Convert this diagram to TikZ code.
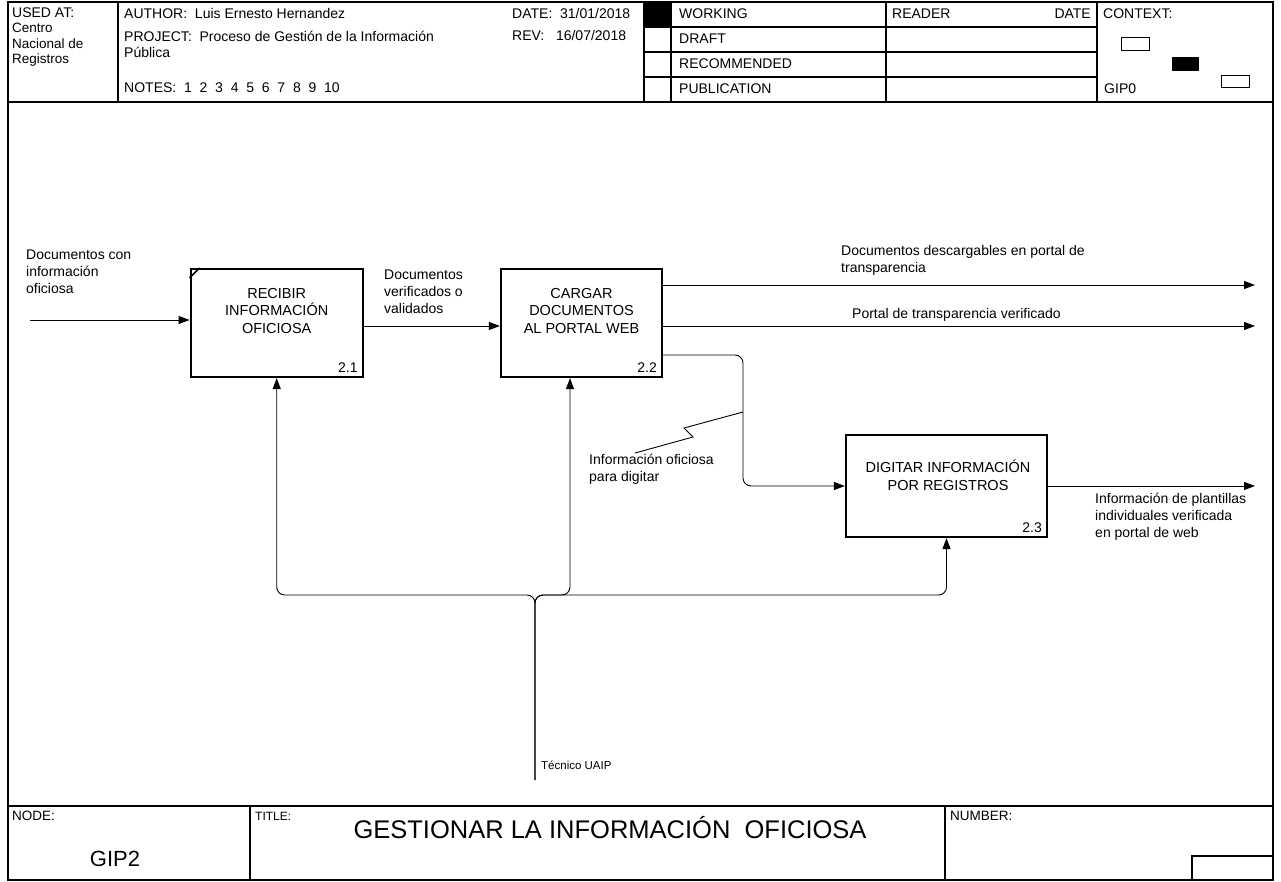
\documentclass[tikz,border=0pt]{standalone}
\usepackage{fontspec}
\setmainfont{Liberation Sans}
\usetikzlibrary{arrows.meta,calc}
\begin{document}
\begin{tikzpicture}[x=1pt,y=-1pt,
  fr/.style={line width=1.3pt},
  txt/.style={font=\fontsize{14}{16}\selectfont, inner sep=0pt, anchor=west},
  small/.style={font=\fontsize{13.5}{15}\selectfont, inner sep=0pt, anchor=west},
  ctr/.style={font=\fontsize{14.5}{17.5}\selectfont, inner sep=0pt, align=center},
  lbl/.style={font=\fontsize{14}{17}\selectfont, inner sep=0pt, align=left, anchor=north west},
  proc/.style={draw, line width=2.2pt, inner sep=0pt},
  num/.style={font=\fontsize{14}{16}\selectfont, inner sep=0pt, anchor=base east},
  arr/.style={line width=0.9pt, -{Triangle[length=11pt,width=8pt]}},
  ln/.style={line width=0.9pt},
]
\useasboundingbox (0,0) rectangle (1281,882);
% ---------- frame ----------
\draw[fr] (8,2) rectangle (1273,880);
\draw[fr] (8,102) -- (1273,102);
\draw[fr] (118,2) -- (118,102);
\draw[fr] (644,2) -- (644,102);
\draw[fr] (671,2) -- (671,102);
\draw[fr] (886,2) -- (886,102);
\draw[fr] (1097,2) -- (1097,102);
\draw[fr] (644,27) -- (1097,27);
\draw[fr] (644,52) -- (1097,52);
\draw[fr] (644,77) -- (1097,77);
\fill (644,2) rectangle (671,27);
% context boxes
\draw[line width=1pt] (1121,38) rectangle (1149,51);
\fill (1172,57) rectangle (1199,71);
\draw[line width=1pt] (1221,76) rectangle (1249,88);
% header texts
\node[txt] (usedat) at (12,13) {USED AT:};
\node[small] (u1) at (12,28) {Centro};
\node[small] (u2) at (12,44) {Nacional de};
\node[small] (u3) at (12,60) {Registros};
\node[txt] (author) at (124,14) {AUTHOR:\ \ Luis Ernesto Hernandez};
\node[txt] (project) at (124,36) {PROJECT:\ \ Proceso de Gestión de la Información};
\node[txt] (project2) at (124,52) {Pública};
\node[txt] (notes) at (124,88) {NOTES:\ \ 1\ \ 2\ \ 3\ \ 4\ \ 5\ \ 6\ \ 7\ \ 8\ \ 9\ \ 10};
\node[txt] (date) at (512,14) {DATE:\ \ 31/01/2018};
\node[txt] (rev) at (512,36) {REV:\ \ \ 16/07/2018};
\node[txt] (working) at (679,14) {WORKING};
\node[txt] (draft) at (679,39) {DRAFT};
\node[txt] (recom) at (679,64) {RECOMMENDED};
\node[txt] (pub) at (679,89) {PUBLICATION};
\node[txt] (reader) at (892,14) {READER};
\node[txt, anchor=east] (rdate) at (1091,14) {DATE};
\node[txt] (context) at (1103,14) {CONTEXT:};
\node[txt] (gip0) at (1104,89) {GIP0};
% ---------- bottom ----------
\draw[fr] (8,806) -- (1273,806);
\draw[fr] (250,806) -- (250,880);
\draw[fr] (945,806) -- (945,880);
\draw[fr] (1192,856) rectangle (1273,880);
\node[small] (nodel) at (12,816) {NODE:};
\node[font=\fontsize{12}{14}\selectfont, inner sep=0pt, anchor=west] (titlel) at (255,816) {TITLE:};
\node[small] (numl) at (950,816) {NUMBER:};
\node[font=\fontsize{25.5}{30}\selectfont, inner sep=0pt] (title) at (610,828) {GESTIONAR LA INFORMACIÓN\ \ OFICIOSA};
\node[font=\fontsize{22}{26}\selectfont, inner sep=0pt] (gip2) at (115,859) {GIP2};
% ---------- boxes ----------
\node[proc, minimum width=172pt, minimum height=108pt] (b1) at (276.7,323) {};
\node[proc, minimum width=161pt, minimum height=108pt] (b2) at (581.5,323) {};
\node[proc, minimum width=201pt, minimum height=102pt] (b3) at (946.5,486) {};
\draw[line width=1.5pt] ($(b1.north west)+(0,10)$) -- ($(b1.north west)+(10,0)$);
\node[ctr] (t1) at (276.7,311) {RECIBIR\\INFORMACIÓN\\OFICIOSA};
\node[ctr] (t2) at (581.5,311) {CARGAR\\DOCUMENTOS\\AL PORTAL WEB};
\node[ctr] (t3) at (948,475.5) {DIGITAR INFORMACIÓN\\POR REGISTROS};
\node[num] (n1) at ($(b1.south east)+(-6,-6)$) {2.1};
\node[num] (n2) at ($(b2.south east)+(-6,-6)$) {2.2};
\node[num] (n3) at ($(b3.south east)+(-6,-6)$) {2.3};
% ---------- connectors ----------
\coordinate (in1) at (30,320);
\draw[arr] (in1) -- (in1 -| b1.west);
\coordinate (r1) at (0,326);
\draw[arr] (b1.east |- r1) -- (b2.west |- r1);
\coordinate (o1) at (1255,285);
\draw[arr] (b2.east |- o1) -- (o1);
\coordinate (o2) at (1255,326);
\draw[arr] (b2.east |- o2) -- (o2);
\coordinate (j1) at (743,355);
\draw[arr, rounded corners=8pt] (b2.east |- j1) -- (j1) -- (j1 |- b3.west) -- (b3.west);
\coordinate (o3) at (1255,486);
\draw[arr] (b3.east) -- (o3);
\coordinate (j2) at (743,412);
\draw[ln] (635,453) -- (693,437) -- (684,428) -- (j2);
% mechanism
\coordinate (m0) at (535,780);
\coordinate (mb) at (535,595);
\coordinate (m2) at (570,595);
\draw[arr, rounded corners=8pt] (m0) -- (mb) -- (b1.south |- mb) -- (b1.south);
\draw[arr, rounded corners=8pt] (m0) -- (mb) -- (m2) -- (m2 |- b2.south);
\draw[arr, rounded corners=8pt] (m0) -- (mb) -- (b3.south |- mb) -- (b3.south);
% ---------- labels ----------
\node[lbl] (l1) at (26,250) {Documentos con\\información\\oficiosa};
\node[lbl] (l2) at (384,270) {Documentos\\verificados o\\validados};
\node[lbl] (l3) at (841,245) {Documentos descargables en portal de\\transparencia};
\node[lbl] (l4) at (852,308) {Portal de transparencia verificado};
\node[lbl] (l5) at (589,454) {Información oficiosa\\para digitar};
\node[lbl] (l6) at (1095,493) {Información de plantillas\\individuales verificada\\en portal de web};
\node[lbl, font=\fontsize{11.5}{14}\selectfont] (l7) at (541,761) {Técnico UAIP};
\end{tikzpicture}
\end{document}
